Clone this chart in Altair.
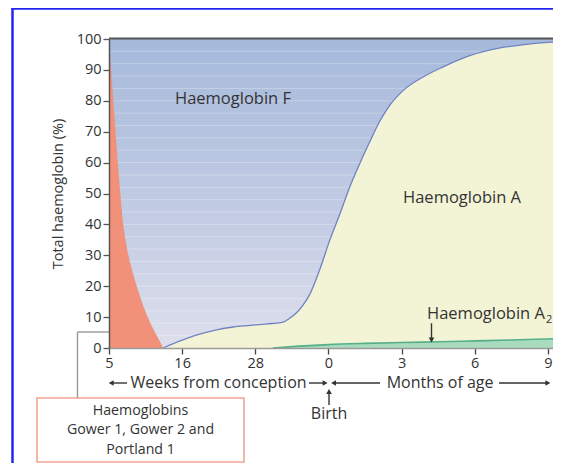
import json
import altair as alt
import pandas as pd

# ---------------- data ----------------
tick_pos = [0, 1, 2, 3, 4, 5, 6]
tick_labels = ["5", "16", "28", "0", "3", "6", "9"]
y_ticks = [0, 10, 20, 30, 40, 50, 60, 70, 80, 90, 100]

# embryonic haemoglobins (Gower 1, Gower 2, Portland 1), % of total
emb_x = [0, 0.03, 0.06, 0.09, 0.12, 0.155, 0.19, 0.23, 0.28, 0.33, 0.40, 0.47, 0.54, 0.61, 0.68, 0.74]
emb_pct = [100, 90, 80, 70, 60, 50, 41, 34.5, 28.5, 24, 18.5, 13.5, 9.5, 5.9, 2.8, 0]

# adult haemoglobin (A + A2) cumulative %, i.e. lower edge of HbF
adult_x = [0, 0.74, 0.88, 1.02, 1.24, 1.47, 1.70, 1.93, 2.16, 2.38,
           2.47, 2.56, 2.65, 2.75, 2.88, 3.02, 3.16, 3.29, 3.43, 3.57,
           3.70, 3.84, 4.02, 4.30, 4.57, 4.93, 5.30, 5.62, 5.95, 6.07]
adult_pct = [0, 0, 1.4, 2.7, 4.5, 5.9, 6.8, 7.3, 7.8, 8.4,
             9.6, 11.3, 13.8, 17.6, 25.3, 35.0, 43.6, 52.0, 59.8, 67.0,
             73.3, 78.6, 83.3, 87.8, 91.0, 94.6, 96.9, 98.0, 98.8, 99.0]

# haemoglobin A2 %
a2_x = [2.24, 2.6, 3.0, 3.5, 4.0, 4.5, 5.0, 5.5, 6.07]
a2_pct = [0, 0.6, 1.1, 1.5, 1.8, 2.0, 2.3, 2.6, 3.0]

FONT = "Open Sans"
INK = "#333333"

# ---------------- frames ----------------
emb_df = pd.DataFrame({"x": emb_x, "pct": emb_pct})
adult_df = pd.DataFrame({"x": adult_x, "pct": adult_pct, "total": [100] * len(adult_x)})
a2_df = pd.DataFrame({"x": a2_x, "pct": a2_pct})
dummy = pd.DataFrame({"k": [0]})

PLOT_W = 444
xs = alt.Scale(domain=[0, 6.07], nice=False, zero=False)
ys = alt.Scale(domain=[0, 100], nice=False)

label_expr = json.dumps(tick_labels) + "[datum.value]"

x_axis = alt.Axis(values=tick_pos, labelExpr=label_expr, title=None, grid=False,
                  tickSize=6, tickColor="#444", tickWidth=1.3, domainColor="#9a9a9a",
                  domainWidth=1.5, labelFont=FONT, labelFontSize=14.5, labelColor=INK,
                  labelPadding=2, labelFlush=False, zindex=1)
y_axis = alt.Axis(values=y_ticks, title="Total haemoglobin (%)", grid=False,
                  tickSize=6, tickColor="#555", tickWidth=1.3, domainColor="#555",
                  domainWidth=1.5, labelFont=FONT, labelFontSize=14.5, labelColor=INK,
                  labelPadding=2, titleFont=FONT, titleFontSize=14.5,
                  titleFontWeight="normal", titleColor=INK, titlePadding=11, zindex=1)

X = lambda f="x": alt.X(f"{f}:Q", scale=xs, axis=x_axis)
Y = lambda f: alt.Y(f"{f}:Q", scale=ys, axis=y_axis)

grad = alt.Gradient(gradient="linear",
                    stops=[alt.GradientStop(color="#a6b9db", offset=0),
                           alt.GradientStop(color="#c4cde4", offset=0.6),
                           alt.GradientStop(color="#dedfec", offset=1)],
                    x1=0, x2=0, y1=0, y2=1)

hbf = alt.Chart(adult_df).mark_area(color=grad, interpolate="monotone").encode(
    x=X(), y=Y("total"), y2="pct:Q")

# faint print banding in the HbF field (decoration, hidden under the other areas)
bands = alt.Chart(pd.DataFrame({"y": list(range(4, 100, 4))})).mark_rule(
    color="white", strokeWidth=1, opacity=0.28).encode(
    x=alt.value(0), x2=alt.value(PLOT_W), y=Y("y"))

hba = alt.Chart(adult_df).mark_area(color="#f3f4d6", interpolate="monotone").encode(
    x=X(), y=Y("pct"))
hba_edge = alt.Chart(adult_df[adult_df.x >= 0.74]).mark_line(
    color="#6f82c4", strokeWidth=1.3, interpolate="monotone").encode(x=X(), y=Y("pct"))
hba2 = alt.Chart(a2_df).mark_area(color="#a9dbbf", interpolate="monotone").encode(
    x=X(), y=Y("pct"))
hba2_edge = alt.Chart(a2_df).mark_line(color="#55b08a", strokeWidth=1.6,
                                       interpolate="monotone").encode(x=X(), y=Y("pct"))
emb = alt.Chart(emb_df).mark_area(color="#f2917a", interpolate="monotone").encode(
    x=X(), y=Y("pct"))

# ---------------- annotations ----------------
big_labels = pd.DataFrame({
    "x": [1.695, 4.826],
    "y": [80.6, 48.7],
    "t": ["Haemoglobin F", "Haemoglobin A"],
})
big = alt.Chart(big_labels).mark_text(font=FONT, fontSize=16.5, color=INK,
                                      baseline="middle", align="center").encode(
    x=X(), y=Y("y"), text="t:N")

a2_label = alt.Chart(pd.DataFrame({"x": [5.96], "y": [11.0], "t": ["Haemoglobin A"]})).mark_text(
    font=FONT, fontSize=16.5, color=INK, baseline="middle", align="right").encode(
    x=X(), y=Y("y"), text="t:N")
a2_sub = alt.Chart(pd.DataFrame({"x": [5.975], "y": [9.0], "t": ["2"]})).mark_text(
    font=FONT, fontSize=11, color=INK, baseline="middle", align="left").encode(
    x=X(), y=Y("y"), text="t:N")

axis_notes = pd.DataFrame({
    "x": [1.497, 4.526, 3.008],
    "y": [-11.33, -11.33, -21.5],
    "t": ["Weeks from conception", "Months of age", "Birth"],
})
box_lines = pd.DataFrame({
    "x": [0.431, 0.431, 0.431],
    "y": [-20.23, -26.54, -32.85],
    "t": ["Haemoglobins", "Gower 1, Gower 2 and", "Portland 1"],
})

box = alt.Chart(pd.DataFrame({"x": [-0.984], "x2": [1.846], "y": [-16.18], "y2": [-36.9]})).mark_rect(
    fill="white", stroke="#f3a594", strokeWidth=1.6).encode(
    x=X(), x2="x2:Q", y=Y("y"), y2="y2:Q")

notes = alt.Chart(axis_notes).mark_text(font=FONT, fontSize=16, color=INK,
                                        baseline="middle", align="center").encode(
    x=X(), y=Y("y"), text="t:N")
box_text = alt.Chart(box_lines).mark_text(font=FONT, fontSize=14.2, color=INK,
                                          baseline="middle", align="center").encode(
    x=X(), y=Y("y"), text="t:N")

segs = pd.DataFrame({
    "x":  [0.02, 2.734, 3.08, 5.332, 3.008, 4.409, -0.431, -0.431],
    "x2": [0.246, 2.95, 3.705, 6.0, 3.008, 4.409, 0.0, -0.431],
    "y":  [-11.33, -11.33, -11.33, -11.33, -18.45, 8.0, 5.18, 5.18],
    "y2": [-11.33, -11.33, -11.33, -11.33, -14.2, 3.0, 5.18, -16.18],
    "c":  [INK, INK, INK, INK, INK, INK, "#9a9a9a", "#9a9a9a"],
})
rules = alt.Chart(segs).mark_rule(strokeWidth=1.4).encode(
    x=X(), x2="x2:Q", y=Y("y"), y2="y2:Q", color=alt.Color("c:N", scale=None))

heads = pd.DataFrame({
    "x": [0.03, 2.955, 3.07, 6.0, 3.008, 4.409],
    "y": [-11.33, -11.33, -11.33, -11.33, -14.1, 2.6],
    "s": ["triangle-left", "triangle-right", "triangle-left", "triangle-right",
          "triangle-up", "triangle-down"],
})
arrowheads = alt.Chart(heads).mark_point(filled=True, size=32, color=INK, opacity=1).encode(
    x=X(), y=Y("y"), shape=alt.Shape("s:N", scale=None))

top_line = alt.Chart(dummy).mark_rule(color="#555555", strokeWidth=2).encode(
    x=alt.value(0), x2=alt.value(PLOT_W), y=alt.value(-0.5))

frame_left = alt.Chart(dummy).mark_rule(color="#2424f2", strokeWidth=2.5).encode(
    x=alt.value(-96.5), y=alt.value(-31), y2=alt.value(424))
frame_top = alt.Chart(dummy).mark_rule(color="#2424f2", strokeWidth=2.5).encode(
    x=alt.value(-97.5), x2=alt.value(PLOT_W), y=alt.value(-30.5))

chart = alt.layer(
    hbf, bands, hba, hba_edge, hba2, hba2_edge, emb,
    big, a2_label, a2_sub, box, notes, box_text, rules, arrowheads, top_line,
    frame_left, frame_top,
).properties(
    width=PLOT_W, height=309,
    padding={"left": 101, "top": 31, "right": 0, "bottom": 115},
    autosize=alt.AutoSizeParams(type="none"),
).configure_view(stroke=None).configure(font=FONT, background="white")

chart.save("out.html", embed_options={"renderer": "svg", "actions": False})
